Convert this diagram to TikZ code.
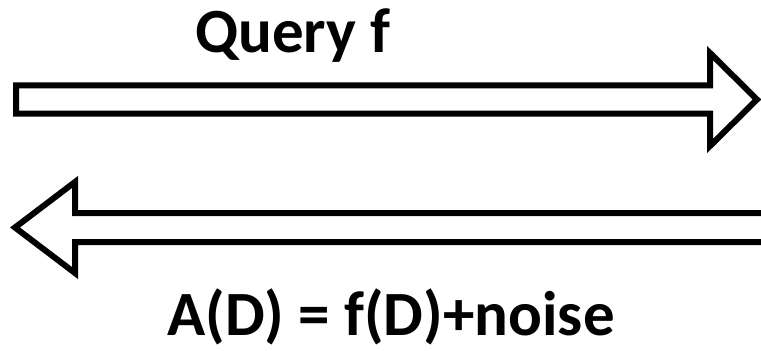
\documentclass[tikz,border=0pt]{standalone}
\usepackage{fontspec}
\setmainfont{Carlito}

\tikzset{
    blockarrow/.style={draw=black, line width=6pt, fill=white, miter limit=20},
    label/.style={font=\fontsize{63}{70}\selectfont\bfseries, inner sep=0pt}
}

\begin{document}
\begin{tikzpicture}[x=1pt, y=-1pt]
    \useasboundingbox[fill=white] (0,0) rectangle (761,351);

    % Query arrow, pointing right
    \draw[blockarrow] (16,85.3) -- (710,85.3) -- (710,53) -- (757,99.5)
        -- (710,146) -- (710,113.7) -- (16,113.7) -- cycle;
    \node[label, anchor=base west] (query) at (195,52) {Query f};

    % Answer arrow, pointing left (shaft runs off the right side)
    \draw[blockarrow, fill=none] (770,213) -- (75,213) -- (75,182) -- (15,227.5)
        -- (75,273) -- (75,242) -- (770,242);
    \node[label, anchor=base] (answer) at (391,335) {A(D) = f(D)+noise};
\end{tikzpicture}
\end{document}
